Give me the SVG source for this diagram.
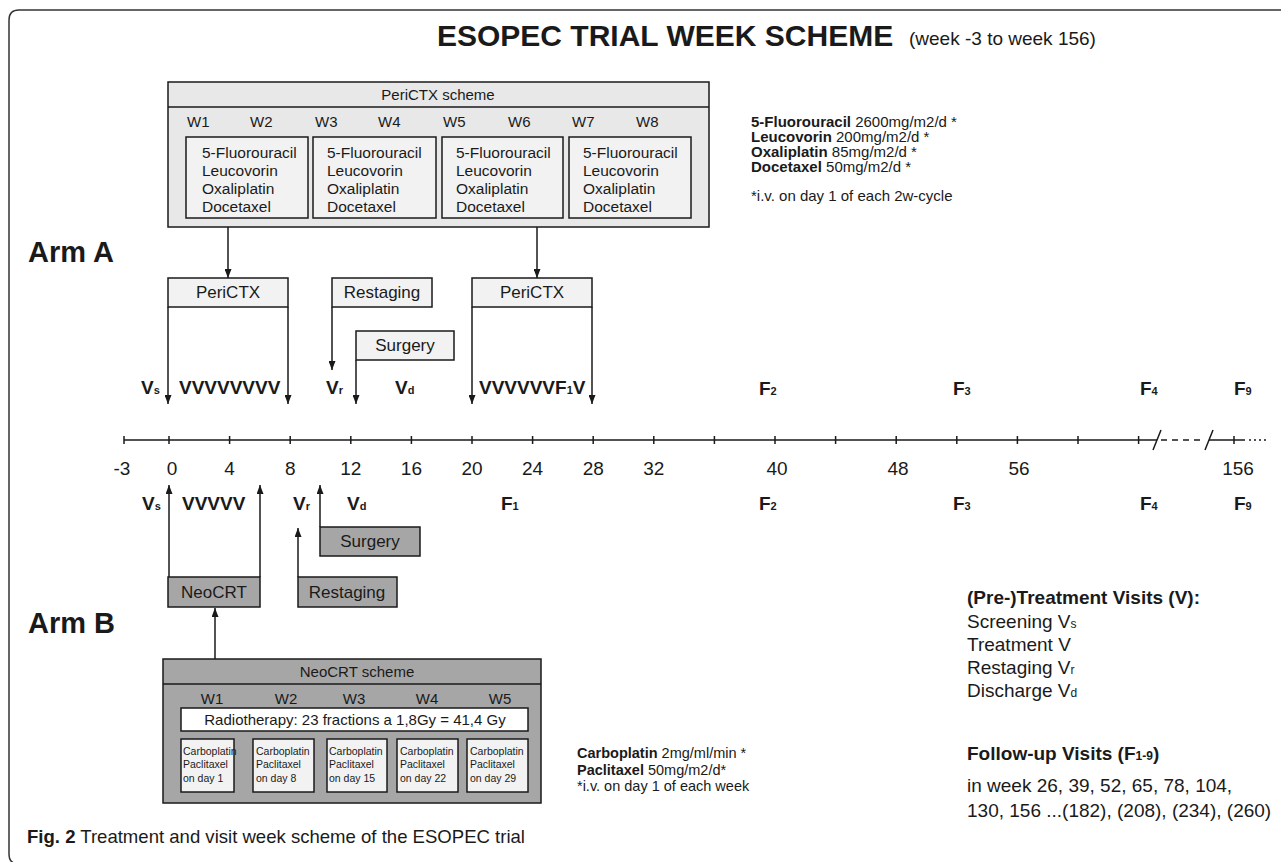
<svg xmlns="http://www.w3.org/2000/svg" width="1281" height="862" viewBox="0 0 1281 862">
<defs>
<marker id="ah" viewBox="0 0 9 7" refX="9" refY="3.5" markerWidth="9" markerHeight="7" markerUnits="userSpaceOnUse" orient="auto"><path d="M0,0 L9,3.5 L0,7 z" fill="#1a1a1a"/></marker>
</defs>
<style>
text{font-family:"Liberation Sans",Arial,sans-serif;fill:#1a1a1a}
.b{font-weight:bold}
.bx{stroke:#1a1a1a;stroke-width:1.5}
.lt{fill:#f2f2f2}
.dk{fill:#a6a6a6}
.mid{fill:#e8e8e8}
.wh{fill:#ffffff}
.ln{fill:none;stroke:#1a1a1a;stroke-width:1.5}
.arr{marker-end:url(#ah)}
.v{font-size:19px;font-weight:bold}
.sb{font-size:11px}
.ax{font-size:19px;text-anchor:middle}
.bt{font-size:17px;text-anchor:middle}
.c{text-anchor:middle}
.dr{font-size:15.5px}
.w{font-size:15px}
.sm{font-size:10.5px}
.rt{font-size:15px}
.rl{font-size:19px}
</style>
<rect x="0" y="0" width="1281" height="862" fill="#ffffff"/>
<path d="M1281,10 H19 Q9,10 9,20 V854 Q9,864 19,864" fill="none" stroke="#333" stroke-width="1.5"/>

<g id="title">
<text x="437" y="46" font-size="30" class="b">ESOPEC TRIAL WEEK SCHEME</text>
<text x="909" y="45" font-size="19">(week -3 to week 156)</text>
</g>

<g id="pericto-scheme">
<rect x="168" y="82" width="541" height="145" class="bx mid"/>
<line x1="168" y1="107" x2="709" y2="107" class="ln"/>
<text x="438" y="100" class="w c">PeriCTX scheme</text>
<g class="w">
<text x="187" y="127">W1</text><text x="250" y="127">W2</text><text x="315" y="127">W3</text><text x="378" y="127">W4</text>
<text x="443" y="127">W5</text><text x="508" y="127">W6</text><text x="572" y="127">W7</text><text x="636" y="127">W8</text>
</g>
<rect x="186" y="137" width="122" height="81" class="bx lt"/>
<rect x="313" y="137" width="123" height="81" class="bx lt"/>
<rect x="442" y="137" width="121" height="81" class="bx lt"/>
<rect x="569" y="137" width="122" height="81" class="bx lt"/>
<g class="dr">
<text x="202" y="157.5">5-Fluorouracil</text><text x="202" y="175.5">Leucovorin</text><text x="202" y="193.5">Oxaliplatin</text><text x="202" y="211.5">Docetaxel</text>
<text x="327" y="157.5">5-Fluorouracil</text><text x="327" y="175.5">Leucovorin</text><text x="327" y="193.5">Oxaliplatin</text><text x="327" y="211.5">Docetaxel</text>
<text x="456" y="157.5">5-Fluorouracil</text><text x="456" y="175.5">Leucovorin</text><text x="456" y="193.5">Oxaliplatin</text><text x="456" y="211.5">Docetaxel</text>
<text x="583" y="157.5">5-Fluorouracil</text><text x="583" y="175.5">Leucovorin</text><text x="583" y="193.5">Oxaliplatin</text><text x="583" y="211.5">Docetaxel</text>
</g>
</g>

<g id="pericto-doses" class="rt">
<text x="751" y="127"><tspan class="b">5-Fluorouracil</tspan> 2600mg/m2/d *</text>
<text x="751" y="142"><tspan class="b">Leucovorin</tspan> 200mg/m2/d *</text>
<text x="751" y="157"><tspan class="b">Oxaliplatin</tspan> 85mg/m2/d *</text>
<text x="751" y="172"><tspan class="b">Docetaxel</tspan> 50mg/m2/d *</text>
<text x="751" y="201">*i.v. on day 1 of each 2w-cycle</text>
</g>

<g id="arm-a-label"><text x="28" y="262" font-size="29" class="b">Arm A</text></g>
<g id="arm-b-label"><text x="28" y="633" font-size="29" class="b">Arm B</text></g>

<g id="a-pericto1"><rect x="168" y="278" width="120" height="29" class="bx lt"/><text x="228" y="298" class="bt">PeriCTX</text></g>
<g id="a-restaging"><rect x="332" y="278" width="100" height="29" class="bx lt"/><text x="382" y="298" class="bt">Restaging</text></g>
<g id="a-surgery"><rect x="356" y="331" width="98" height="29" class="bx lt"/><text x="405" y="351" class="bt">Surgery</text></g>
<g id="a-pericto2"><rect x="472" y="278" width="120" height="29" class="bx lt"/><text x="532" y="298" class="bt">PeriCTX</text></g>

<g id="b-neocrt"><rect x="168" y="577" width="92" height="30" class="bx dk"/><text x="214" y="598" class="bt">NeoCRT</text></g>
<g id="b-restaging"><rect x="298" y="577" width="99" height="30" class="bx dk"/><text x="347" y="598" class="bt">Restaging</text></g>
<g id="b-surgery"><rect x="320" y="527" width="100" height="29" class="bx dk"/><text x="370" y="547" class="bt">Surgery</text></g>

<g id="connectors">
<path d="M228,227 V278" class="ln arr"/>
<path d="M537,227 V278" class="ln arr"/>
<path d="M168,307 V404" class="ln arr"/>
<path d="M288,307 V404" class="ln arr"/>
<path d="M332,307 V370" class="ln arr"/>
<path d="M356,360 V404" class="ln arr"/>
<path d="M472,307 V404" class="ln arr"/>
<path d="M592,307 V404" class="ln arr"/>
<path d="M169,577 V485" class="ln arr"/>
<path d="M260,577 V485" class="ln arr"/>
<path d="M298,577 V528" class="ln arr"/>
<path d="M320,527 V485" class="ln arr"/>
<path d="M215,659 V608" class="ln arr"/>
</g>

<g id="arm-a-visits" class="v">
<text x="141" y="394">V<tspan class="sb">s</tspan></text>
<text x="179" y="394">VVVVVVVV</text>
<text x="326" y="394">V<tspan class="sb">r</tspan></text>
<text x="395" y="394">V<tspan class="sb">d</tspan></text>
<text x="479" y="394">VVVVVVF<tspan class="sb">1</tspan>V</text>
<text x="759" y="395">F<tspan class="sb">2</tspan></text>
<text x="953" y="395">F<tspan class="sb">3</tspan></text>
<text x="1140" y="395">F<tspan class="sb">4</tspan></text>
<text x="1234" y="395">F<tspan class="sb">9</tspan></text>
</g>

<g id="timeline">
<path d="M124,440 H1157 M1209,440 H1245" class="ln" stroke-width="2"/>
<path d="M1161,440 H1205" class="ln" stroke-dasharray="6,5"/>
<path d="M1249,440 H1266" class="ln" stroke-dasharray="2,3"/>
<path d="M1153,450 L1161,430 M1205,450 L1213,430" class="ln"/>
<path d="M124,436 V444 M169,436 V444 M229.6,436 V444 M290.2,436 V444 M350.8,436 V444 M411.4,436 V444 M472,436 V444 M532.6,436 V444 M593.2,436 V444 M653.8,436 V444 M714.4,436 V444 M775,436 V444 M835.6,436 V444 M896.2,436 V444 M956.8,436 V444 M1017.4,436 V444 M1078,436 V444 M1138.6,436 V444 M1234,436 V444" class="ln"/>
<g class="ax">
<text x="122" y="475">-3</text><text x="172" y="475">0</text><text x="229.6" y="475">4</text><text x="290.2" y="475">8</text>
<text x="350.8" y="475">12</text><text x="411.4" y="475">16</text><text x="472" y="475">20</text><text x="532.6" y="475">24</text>
<text x="593.2" y="475">28</text><text x="653.8" y="475">32</text><text x="777" y="475">40</text><text x="898" y="475">48</text>
<text x="1019" y="475">56</text><text x="1238" y="475">156</text>
</g>
</g>

<g id="arm-b-visits" class="v">
<text x="142" y="510">V<tspan class="sb">s</tspan></text>
<text x="182" y="510">VVVVV</text>
<text x="293" y="510">V<tspan class="sb">r</tspan></text>
<text x="347" y="510">V<tspan class="sb">d</tspan></text>
<text x="501" y="510">F<tspan class="sb">1</tspan></text>
<text x="759" y="510">F<tspan class="sb">2</tspan></text>
<text x="953" y="510">F<tspan class="sb">3</tspan></text>
<text x="1140" y="510">F<tspan class="sb">4</tspan></text>
<text x="1234" y="510">F<tspan class="sb">9</tspan></text>
</g>

<g id="neocrt-scheme">
<rect x="163" y="659" width="378" height="144" class="bx dk"/>
<line x1="163" y1="684" x2="541" y2="684" class="ln"/>
<text x="357" y="677" class="w c">NeoCRT scheme</text>
<g class="w c">
<text x="212" y="704">W1</text><text x="286" y="704">W2</text><text x="354" y="704">W3</text><text x="427" y="704">W4</text><text x="500" y="704">W5</text>
</g>
<rect x="181" y="708" width="347" height="23" class="bx wh"/>
<text x="355" y="725" class="w c">Radiotherapy: 23 fractions a 1,8Gy = 41,4 Gy</text>
<rect x="181" y="739" width="53" height="53" class="bx lt"/>
<rect x="253" y="739" width="61" height="53" class="bx lt"/>
<rect x="327" y="739" width="60" height="53" class="bx lt"/>
<rect x="397" y="739" width="61" height="53" class="bx lt"/>
<rect x="467" y="739" width="61" height="53" class="bx lt"/>
<g class="sm">
<text x="183" y="755">Carboplatin</text><text x="183" y="768">Paclitaxel</text><text x="183" y="782">on day 1</text>
<text x="256" y="755">Carboplatin</text><text x="256" y="768">Paclitaxel</text><text x="256" y="782">on day 8</text>
<text x="329" y="755">Carboplatin</text><text x="329" y="768">Paclitaxel</text><text x="329" y="782">on day 15</text>
<text x="400" y="755">Carboplatin</text><text x="400" y="768">Paclitaxel</text><text x="400" y="782">on day 22</text>
<text x="470" y="755">Carboplatin</text><text x="470" y="768">Paclitaxel</text><text x="470" y="782">on day 29</text>
</g>
</g>

<g id="neocrt-doses" font-size="14.5">
<text x="577" y="758"><tspan class="b">Carboplatin</tspan> 2mg/ml/min *</text>
<text x="577" y="775"><tspan class="b">Paclitaxel</tspan> 50mg/m2/d*</text>
<text x="577" y="791">*i.v. on day 1 of each week</text>
</g>

<g id="legend" class="rl">
<text x="967" y="604" class="b">(Pre-)Treatment Visits (V):</text>
<text x="967" y="628">Screening V<tspan font-size="12">s</tspan></text>
<text x="967" y="651">Treatment V</text>
<text x="967" y="674">Restaging V<tspan font-size="12">r</tspan></text>
<text x="967" y="697">Discharge V<tspan font-size="12">d</tspan></text>
<text x="967" y="760" class="b">Follow-up Visits (F<tspan font-size="12">1-9</tspan>)</text>
<text x="967" y="792">in week 26, 39, 52, 65, 78, 104,</text>
<text x="967" y="817">130, 156 ...(182), (208), (234), (260)</text>
</g>

<g id="caption">
<text x="27" y="843" font-size="19" textLength="498" lengthAdjust="spacingAndGlyphs"><tspan class="b">Fig. 2</tspan> Treatment and visit week scheme of the ESOPEC trial</text>
</g>
</svg>
